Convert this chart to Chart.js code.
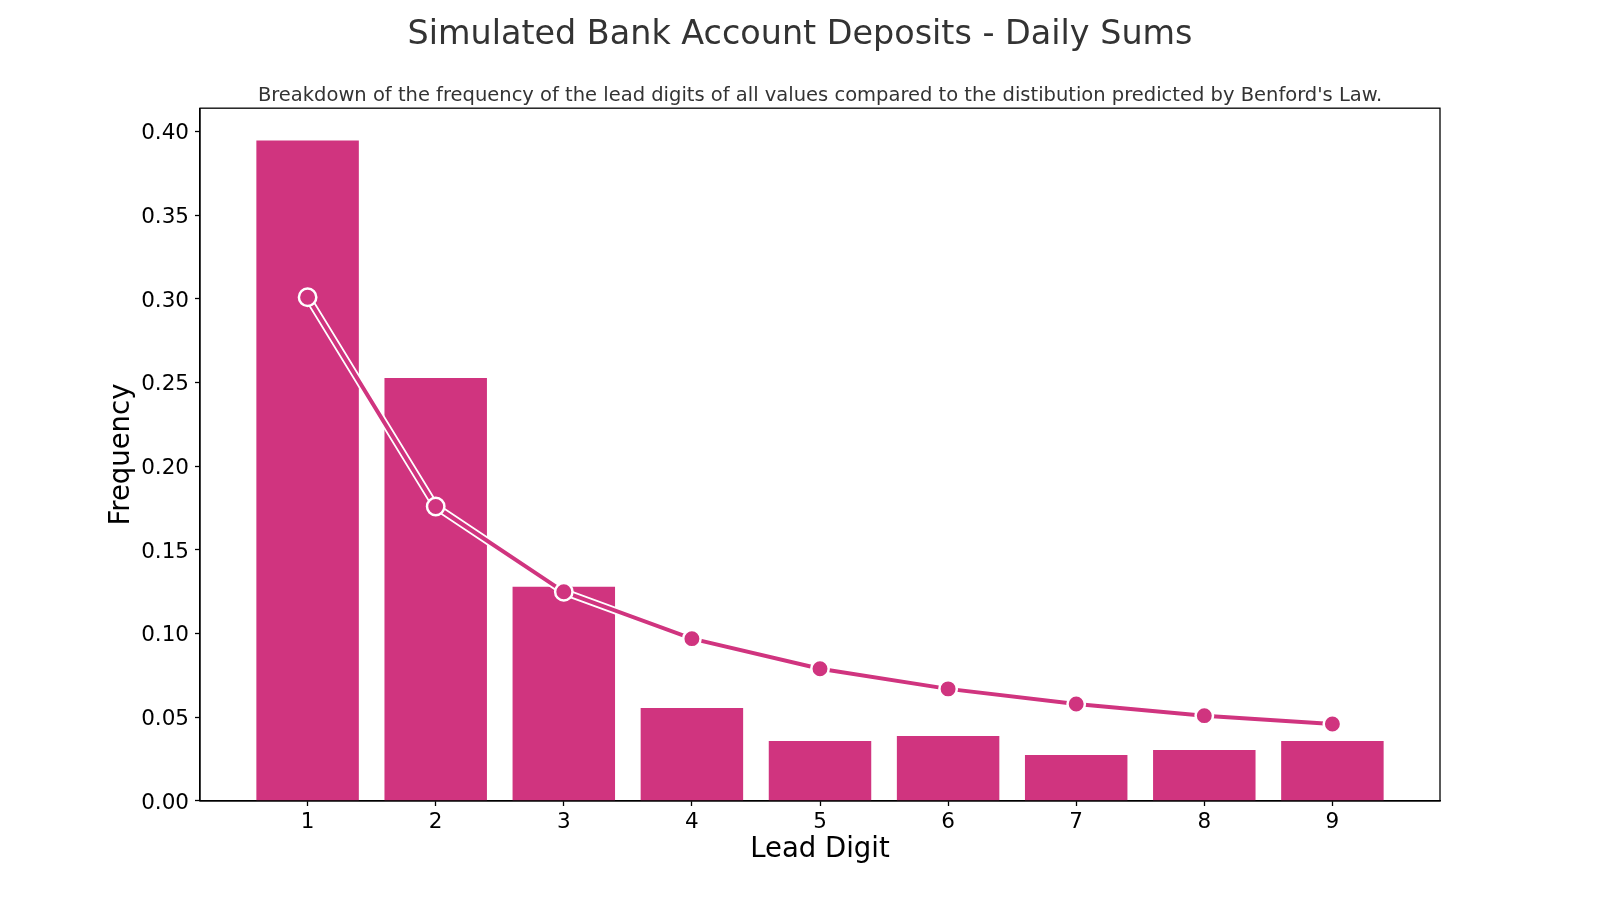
<!DOCTYPE html>
<html>
<head>
<meta charset="utf-8">
<title>Simulated Bank Account Deposits - Daily Sums</title>
<script src="https://cdn.jsdelivr.net/npm/chart.js@4.4.1/dist/chart.umd.min.js"></script>
<style>
  html, body { margin: 0; padding: 0; background: #fff; }
  #wrap { width: 1600px; height: 900px; }
</style>
</head>
<body>
<div id="wrap"><canvas id="myChart" width="1600" height="900"></canvas></div>
<script>
// data
const leadDigits = [1, 2, 3, 4, 5, 6, 7, 8, 9];
const observedFreq = [0.3947, 0.2528, 0.1281, 0.0556, 0.0359, 0.0388, 0.0275, 0.0305, 0.0359];
const benfordFreq = [0.301, 0.176, 0.125, 0.097, 0.079, 0.067, 0.058, 0.051, 0.046];
const yTicks = [0, 0.05, 0.10, 0.15, 0.20, 0.25, 0.30, 0.35, 0.40];

const pink = '#d0347f';
const font = 'DejaVu Sans';

const ctx = document.querySelector('#myChart');

// draws the top and right spines like matplotlib
const frame = {
  id: 'frame',
  afterDatasetsDraw(chart) {
    const a = chart.chartArea;
    const c = chart.ctx;
    c.save();
    c.strokeStyle = '#000';
    c.lineWidth = 1.3;
    c.strokeRect(a.left, a.top, a.right - a.left, a.bottom - a.top);
    c.restore();
  }
};

new Chart(ctx, {
  data: {
    datasets: [
      {
        type: 'line',
        label: 'Benford',
        data: leadDigits.map((d, i) => ({ x: d, y: benfordFreq[i] })),
        borderColor: pink,
        borderWidth: 4,
        pointRadius: 8.7,
        pointBackgroundColor: pink,
        pointBorderColor: '#fff',
        pointBorderWidth: 2.5,
        tension: 0,
        order: 1
      },
      {
        // white edge under the line
        type: 'line',
        label: 'edge',
        data: leadDigits.map((d, i) => ({ x: d, y: benfordFreq[i] })),
        borderColor: '#fff',
        borderWidth: 7.5,
        pointRadius: 0,
        tension: 0,
        order: 2
      },
      {
        type: 'bar',
        label: 'Observed',
        data: leadDigits.map((d, i) => ({ x: d, y: observedFreq[i] })),
        backgroundColor: pink,
        borderWidth: 0,
        barPercentage: 0.8,
        categoryPercentage: 1.0,
        order: 3
      }
    ]
  },
  options: {
    responsive: false,
    animation: false,
    devicePixelRatio: 1,
    layout: { padding: 0 },
    plugins: {
      legend: { display: false },
      tooltip: { enabled: false },
      title: {
        display: true,
        text: 'Simulated Bank Account Deposits - Daily Sums',
        color: '#333333',
        font: { family: font, size: 33.4, weight: 'normal' },
        padding: { top: 15, bottom: 29 }
      },
      subtitle: {
        display: true,
        fullSize: false,
        text: "Breakdown of the frequency of the lead digits of all values compared to the distibution predicted by Benford's Law.",
        color: '#333333',
        font: { family: font, size: 19.5, weight: 'normal' },
        padding: { top: 0, bottom: 0.7 }
      }
    },
    scales: {
      x: {
        type: 'linear',
        position: 'bottom',
        offset: false,
        min: 0.16,
        max: 9.84,
        afterBuildTicks: s => { s.ticks = leadDigits.map(v => ({ value: v })); },
        afterFit: s => { s.height = 99; },
        grid: { offset: false, drawOnChartArea: false, drawTicks: true, tickLength: 5, tickColor: '#000', tickWidth: 1.3 },
        border: { display: true, color: '#000', width: 1.3 },
        ticks: {
          color: '#000',
          font: { family: font, size: 21.5 },
          padding: 4,
          maxRotation: 0,
          callback: v => String(v)
        },
        title: {
          display: true,
          text: 'Lead Digit',
          color: '#000',
          font: { family: font, size: 27.5 },
          padding: { top: 0, bottom: 33.5 }
        }
      },
      y: {
        type: 'linear',
        position: 'left',
        min: 0,
        max: 0.414,
        afterBuildTicks: s => { s.ticks = yTicks.map(v => ({ value: v })); },
        afterFit: s => { s.width = 200; },
        grid: { drawOnChartArea: false, drawTicks: true, tickLength: 5, tickColor: '#000', tickWidth: 1.3 },
        border: { display: true, color: '#000', width: 1.3 },
        ticks: {
          color: '#000',
          font: { family: font, size: 21.5 },
          padding: 6,
          labelOffset: 2,
          callback: v => v.toFixed(2)
        },
        title: {
          display: true,
          text: 'Frequency',
          color: '#000',
          font: { family: font, size: 27.5 },
          padding: { top: 105, bottom: 0 }
        }
      },
      // empty right axis, only to leave the right margin
      y2: {
        type: 'linear',
        position: 'right',
        display: true,
        afterFit: s => { s.width = 160; },
        grid: { display: false },
        border: { display: false },
        ticks: { display: false }
      }
    }
  },
  plugins: [frame]
});
</script>
</body>
</html>
